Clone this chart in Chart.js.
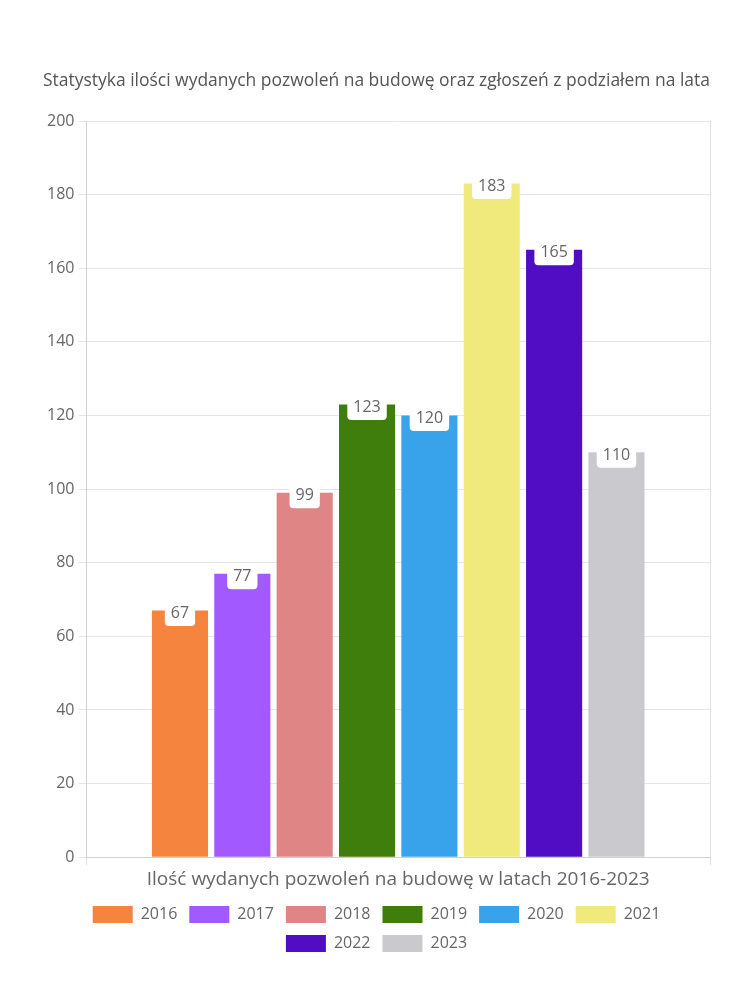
<!DOCTYPE html>
<html><head><meta charset="utf-8">
<script src="https://cdn.jsdelivr.net/npm/chart.js@4/dist/chart.umd.min.js"></script>
<style>html,body{margin:0;padding:0;background:#fff}#wrap{width:750px;height:1000px}</style>
</head><body><div id="wrap"><canvas id="c" width="750" height="1000"></canvas></div>
<script>
const categories = ['Ilość wydanych pozwoleń na budowę w latach 2016-2023'];
const years = ['2016','2017','2018','2019','2020','2021','2022','2023'];
const values = [67, 77, 99, 123, 120, 183, 165, 110];
const colors = ['#F5843F','#A259FF','#E08585','#3F7D0D','#38A3EA','#F0EA7D','#500DC4','#CACACE'];
const yTicks = [0,20,40,60,80,100,120,140,160,180,200];
const FONT = '"Open Sans", Lato, sans-serif';

const labelPlugin = {
  id: 'valLabels',
  afterDatasetsDraw(chart) {
    const ctx = chart.ctx;
    ctx.save();
    ctx.font = '16px ' + FONT;
    ctx.textAlign = 'center';
    ctx.textBaseline = 'middle';
    chart.data.datasets.forEach((ds, i) => {
      const meta = chart.getDatasetMeta(i);
      if (meta.hidden) return;
      meta.data.forEach((el, j) => {
        const txt = String(ds.data[j]);
        const w = ctx.measureText(txt).width + 12;
        const h = 25;
        const cx = el.x, cy = el.y + 3;
        ctx.fillStyle = '#fff';
        ctx.beginPath();
        ctx.roundRect(cx - w/2, cy - h/2, w, h, 4);
        ctx.fill();
        ctx.fillStyle = '#666';
        ctx.fillText(txt, cx, cy);
      });
    });
    ctx.restore();
  }
};

new Chart(document.getElementById('c'), {
  type: 'bar',
  data: {
    labels: categories,
    datasets: years.map((y, i) => ({
      label: y,
      data: [values[i]],
      backgroundColor: colors[i],
      borderWidth: 0
    }))
  },
  options: {
    responsive: false,
    animation: false,
    devicePixelRatio: 1,
    layout: { padding: { top: 71, left: 43, right: 40, bottom: 38 } },
    datasets: { bar: { categoryPercentage: 0.8, barPercentage: 0.9 } },
    plugins: {
      title: { display: true, text: 'Statystyka ilości wydanych pozwoleń na budowę oraz zgłoszeń z podziałem na lata',
        color: '#555', font: { family: FONT, size: 17.5, weight: 'normal' }, padding: { top: 0, bottom: 29 } },
      legend: { position: 'bottom', labels: { color: '#666', font: { family: FONT, size: 16 }, boxWidth: 40, boxHeight: 17, padding: 12 } },
      tooltip: { enabled: false }
    },
    scales: {
      x: {
        grid: { color: '#e0e0e0', tickLength: 8 },
        border: { color: '#d0d0d0' },
        ticks: { color: '#666', font: { family: FONT, size: 19 } }
      },
      y: {
        min: 0, max: 200,
        afterBuildTicks(axis) { axis.ticks = yTicks.map(v => ({ value: v })); },
        grid: { color: '#e5e5e5', tickLength: 8 },
        border: { color: '#d0d0d0' },
        ticks: { color: '#666', font: { family: FONT, size: 16 }, padding: 4 }
      }
    }
  },
  plugins: [labelPlugin]
});
</script></body></html>
